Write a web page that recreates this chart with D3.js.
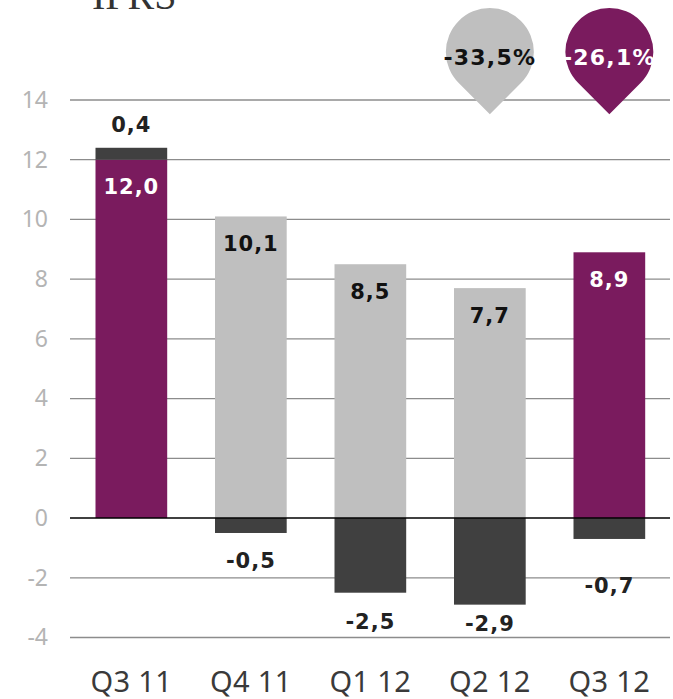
<!DOCTYPE html>
<html><head><meta charset="utf-8">
<script src="https://cdn.jsdelivr.net/npm/d3@7"></script>
<style>body{margin:0;background:#fff}svg{display:block}</style>
</head><body>
<svg id="c" width="673" height="699"></svg>
<script>
const categories = ["Q3 11","Q4 11","Q1 12","Q2 12","Q3 12"];
const mainValues = [12.0, 10.1, 8.5, 7.7, 8.9];
const deltaValues = [0.4, -0.5, -2.5, -2.9, -0.7];
const mainLabels = ["12,0","10,1","8,5","7,7","8,9"];
const deltaLabels = ["0,4","-0,5","-2,5","-2,9","-0,7"];
const highlight = [true,false,false,false,true];
const yTicks = [-4,-2,0,2,4,6,8,10,12,14];
const pinCategories = ["Q2 12","Q3 12"];
const pinLabels = ["-33,5%","-26,1%"];
const pinHighlight = [false,true];
const title = "IFRS";

const PURPLE = "#7a1b5e", GREY = "#bfbfbf", DARK = "#404040";
const svg = d3.select("#c");
const y = d3.scaleLinear().domain([-4,14]).range([637.5,100]);
const x = d3.scaleBand().domain(categories).range([71.6,669.1]).paddingInner(0.4).paddingOuter(0.2);
const gx0 = 70, gx1 = 670;

svg.append("text").attr("x",92).attr("y",9).attr("font-family","Liberation Serif")
  .attr("font-size",40).attr("fill","#333").text(title);

// grid
svg.append("g").selectAll("line").data(yTicks.filter(d=>d!==0)).join("line")
  .attr("x1",gx0).attr("x2",gx1).attr("y1",d=>y(d)).attr("y2",d=>y(d))
  .attr("stroke","#8c8c8c").attr("stroke-width",1.3);

// y axis labels
const ya = svg.append("g").attr("transform",`translate(48,0)`)
  .call(d3.axisLeft(y).tickValues(yTicks).tickSize(0).tickPadding(0).tickFormat(d=>String(d)));
ya.select(".domain").remove();
ya.selectAll("text").attr("font-family","Noto Sans").attr("font-size",23).attr("fill","#b4b4b4");

// bars
const rows = categories.map((c,i)=>({c,i,m:mainValues[i],d:deltaValues[i],h:highlight[i]}));
svg.append("g").selectAll("rect").data(rows).join("rect")
  .attr("x",d=>x(d.c)).attr("width",x.bandwidth())
  .attr("y",d=>y(d.m)).attr("height",d=>y(0)-y(d.m))
  .attr("fill",d=>d.h?PURPLE:GREY);
svg.append("g").selectAll("rect").data(rows).join("rect")
  .attr("x",d=>x(d.c)).attr("width",x.bandwidth())
  .attr("y",d=>d.d>=0?y(d.m+d.d):y(0))
  .attr("height",d=>d.d>=0?y(d.m)-y(d.m+d.d):y(d.d)-y(0))
  .attr("fill",DARK);

// zero line
svg.append("line").attr("x1",gx0).attr("x2",gx1).attr("y1",y(0)).attr("y2",y(0))
  .attr("stroke","#000").attr("stroke-width",1.5);

// labels
const lab = svg.append("g").attr("font-family","DejaVu Sans").attr("font-weight","bold")
  .attr("font-size",21).attr("letter-spacing",1).attr("text-anchor","middle");
lab.selectAll("text.m").data(rows).join("text").attr("class","m")
  .attr("x",d=>x(d.c)+x.bandwidth()/2).attr("y",d=>y(d.m)+27).attr("dy","0.36em")
  .attr("fill",d=>d.h?"#fff":"#111").text(d=>mainLabels[d.i]);
const negOffset = [0,27,29,19,46];
lab.selectAll("text.d").data(rows).join("text").attr("class","d")
  .attr("x",d=>x(d.c)+x.bandwidth()/2)
  .attr("y",d=>d.d>=0?y(d.m+d.d)-23:y(d.d)+negOffset[d.i]).attr("dy","0.36em")
  .attr("fill","#222").text(d=>deltaLabels[d.i]);

// x labels
svg.append("g").selectAll("text").data(categories).join("text")
  .attr("x",d=>x(d)+x.bandwidth()/2).attr("y",692).attr("text-anchor","middle")
  .attr("font-family","Noto Sans").attr("font-size",29).attr("letter-spacing",0.3)
  .attr("fill","#3a3a3a").text(d=>d);

// pins
const R = 44;
pinCategories.forEach((c,i)=>{
  const cx = x(c)+x.bandwidth()/2, cy = 52;
  const tipY = cy + R*Math.SQRT2;
  const a = R/Math.SQRT2;
  const p = `M${cx},${tipY} L${cx-a},${cy+a} A${R},${R} 0 1 1 ${cx+a},${cy+a} Z`;
  svg.append("path").attr("d",p).attr("fill",pinHighlight[i]?PURPLE:GREY);
  svg.append("text").attr("x",cx).attr("y",57).attr("dy","0.36em").attr("text-anchor","middle")
    .attr("font-family","DejaVu Sans").attr("font-weight","bold").attr("font-size",22)
    .attr("letter-spacing",1.2)
    .attr("fill",pinHighlight[i]?"#fff":"#111").text(pinLabels[i]);
});
</script>
</body></html>
